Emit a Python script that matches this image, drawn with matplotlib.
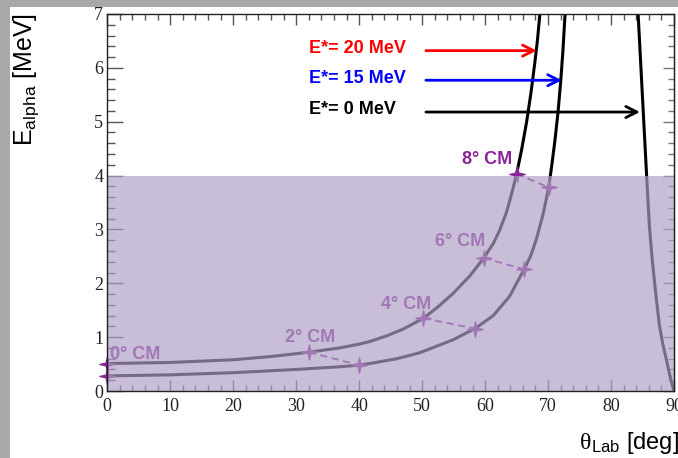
import numpy as np
import matplotlib
matplotlib.use("Agg")
import matplotlib.pyplot as plt
from matplotlib.path import Path
from matplotlib.patches import Rectangle
from matplotlib.ticker import MultipleLocator

plt.rcParams["font.family"] = ["Liberation Sans", "DejaVu Sans"]
plt.rcParams["mathtext.default"] = "regular"

# alpha energy vs lab angle for the three excitation energies
theta_20 = [0, 10, 20, 26, 32, 36.9, 40, 41.7, 44.5, 47.0, 50.2, 52.5, 54.9, 57.6,
            59.8, 61.3, 62.3, 63.4, 64.3, 65.0, 65.8, 66.6, 67.3, 67.9, 68.3, 68.7]
e_20 = [0.51, 0.53, 0.58, 0.64, 0.72, 0.80, 0.87, 0.92, 1.03, 1.15, 1.35, 1.56, 1.81, 2.14,
        2.47, 2.74, 2.98, 3.32, 3.70, 4.03, 4.48, 5.00, 5.55, 6.10, 6.50, 7.0]

theta_15 = [0, 10, 20, 30, 36.9, 40, 41.7, 46, 49.6, 54.9, 58.4, 61.3, 63.9, 66.2,
            67.2, 68.1, 69.2, 70.1, 70.6, 71.1, 71.6, 72.0, 72.35, 72.7]
e_15 = [0.28, 0.30, 0.34, 0.40, 0.45, 0.48, 0.51, 0.60, 0.71, 0.95, 1.16, 1.40, 1.76, 2.26,
        2.50, 2.80, 3.28, 3.78, 4.20, 4.66, 5.20, 5.74, 6.30, 7.0]

theta_0 = [84.3, 84.75, 85.2, 85.65, 86.1, 86.55, 87.1, 87.65, 88.2, 88.8, 89.35, 89.75, 90.0]
e_0 = [7.0, 6.0, 5.0, 4.0, 3.05, 2.43, 1.81, 1.25, 0.88, 0.575, 0.28, 0.10, 0.0]

# CM angle points on the E*=20 and E*=15 lines
cm_angles = [0, 2, 4, 6, 8]
cm_theta_20 = [0, 32.0, 50.2, 59.8, 65.0]
cm_e_20 = [0.51, 0.72, 1.35, 2.47, 4.03]
cm_theta_15 = [0, 40.0, 58.4, 66.2, 70.1]
cm_e_15 = [0.28, 0.48, 1.16, 2.26, 3.78]

# label anchor (left edge, vertical centre) for each CM angle
cm_label_x = [0.45, 28.3, 43.4, 52.0, 56.4]
cm_label_y = [0.68, 0.99, 1.61, 2.78, 4.30]

e_star = [20, 15, 0]
arrow_colors = ["#ff0000", "#0000ff", "#000000"]
arrow_e = [6.32, 5.77, 5.18]
arrow_tip = [68.2, 72.2, 84.6]

e_cut = 4.0  # detector threshold region

x_ticks = list(range(0, 91, 10))
y_ticks = list(range(0, 8))

PURPLE = "#8a2596"
SHADE = (0.682, 0.624, 0.769)

# thin four-pointed star
star = Path([(0, 1), (0.18, 0.18), (1, 0), (0.18, -0.18), (0, -1),
             (-0.18, -0.18), (-1, 0), (-0.18, 0.18), (0, 1)], closed=True)

W, H = 678, 458
fig = plt.figure(figsize=(W / 100, H / 100), dpi=100, facecolor="#a8a8a8")
fig.patches.append(Rectangle((10 / W, 0), 1, 1 - 7 / H, transform=fig.transFigure,
                             facecolor="white", edgecolor="none", zorder=-1))

ax = fig.add_axes([107.3 / W, 1 - 391 / H, (674 - 107.3) / W, (391 - 14) / H])
ax.set_xlim(0, 90)
ax.set_ylim(0, 7)

for th, e in [(theta_20, e_20), (theta_15, e_15), (theta_0, e_0)]:
    ax.plot(th, e, color="black", lw=2.2, zorder=2, solid_joinstyle="round")

for i in range(len(cm_angles)):
    ax.plot([cm_theta_20[i], cm_theta_15[i]], [cm_e_20[i], cm_e_15[i]],
            ls="--", dashes=(4, 2.5), color=PURPLE, lw=1.3, zorder=3, clip_on=False)
    ax.text(cm_label_x[i], cm_label_y[i], f"{cm_angles[i]}° CM", color=PURPLE,
            fontsize=13, fontweight="bold", va="center", ha="left", zorder=3)

ax.plot(cm_theta_20, cm_e_20, ls="none", marker=star, ms=11, color=PURPLE,
        zorder=3, clip_on=False)
ax.plot(cm_theta_15, cm_e_15, ls="none", marker=star, ms=11, color=PURPLE,
        zorder=3, clip_on=False)

ax.axhspan(0, e_cut, color=SHADE, alpha=0.68, lw=0, zorder=4)

for v, c, e, tip in zip(e_star, arrow_colors, arrow_e, arrow_tip):
    ax.text(32.0, e + 0.04, f"E*= {v} MeV", color=c, fontsize=13,
            fontweight="bold", va="center", ha="left")
    ax.annotate("", xy=(tip, e), xytext=(50.6, e),
                arrowprops=dict(arrowstyle="->", color=c, lw=2,
                                shrinkA=0, shrinkB=0, mutation_scale=20))

# ticks
ax.set_xticks(x_ticks)
ax.set_xticklabels([str(t) for t in x_ticks], fontfamily="Liberation Serif", fontsize=13)
ax.set_yticks(y_ticks)
ax.set_yticklabels([str(t) for t in y_ticks], fontfamily="Liberation Serif", fontsize=13)
ax.xaxis.set_minor_locator(MultipleLocator(2))
ax.yaxis.set_minor_locator(MultipleLocator(0.2))
ax.tick_params(axis="x", which="both", direction="in", top=True, bottom=True,
               color="#555555", width=1, labelcolor="#222222", pad=5)
ax.tick_params(axis="x", which="major", length=8)
ax.tick_params(axis="x", which="minor", length=4)
ax.tick_params(axis="y", which="both", direction="in", left=True, right=False,
               color="#555555", width=1, labelcolor="#222222", pad=3)
ax.tick_params(axis="y", which="major", length=11.5)
ax.tick_params(axis="y", which="minor", length=5.8)

sec = ax.secondary_yaxis("right")
sec.yaxis.set_major_locator(MultipleLocator(1))
sec.yaxis.set_minor_locator(MultipleLocator(0.2))
sec.tick_params(which="both", direction="in", color="#777777", width=1, labelright=False)
sec.tick_params(which="major", length=8)
sec.tick_params(which="minor", length=4)

for s in ax.spines.values():
    s.set_color("#222222")
    s.set_linewidth(1)
    s.set_zorder(5)

# axis titles
fig.text(26 / W, 1 - 13 / H, "E$_{\\mathregular{alpha}}$ [MeV]", rotation=90,
         ha="center", va="top", fontsize=18)
xl = fig.text(679 / W, 1 - 449 / H, "$_{\\mathregular{Lab}}$ [deg]", ha="right",
              va="baseline", fontsize=17)
fig.canvas.draw()
bb = xl.get_window_extent()
fig.text(bb.x0 / W, 1 - 449 / H, "θ", ha="right", va="baseline", fontsize=17,
         fontfamily="Liberation Serif")

fig.savefig("out.png", dpi=100, facecolor=fig.get_facecolor())
